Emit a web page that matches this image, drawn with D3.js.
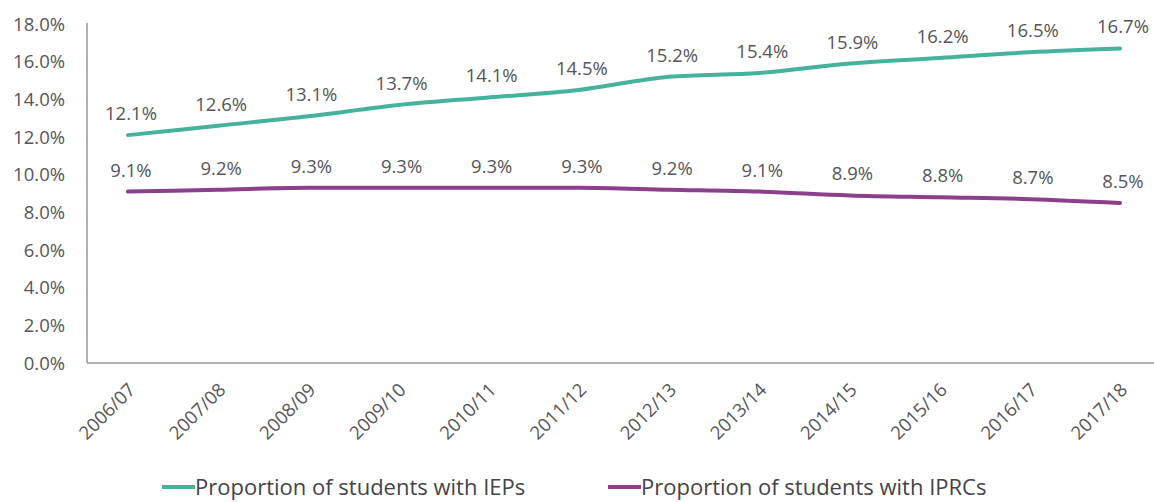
<!DOCTYPE html>
<html>
<head>
<meta charset="utf-8">
<script src="https://cdn.jsdelivr.net/npm/d3@7"></script>
<style>
  html, body { margin: 0; padding: 0; background: #fff; }
  svg { display: block; }
  text { font-family: "Open Sans", Lato, sans-serif; fill: #55555a; }
</style>
</head>
<body>
<svg id="chart" width="1154" height="502"></svg>
<script>
const years = ["2006/07","2007/08","2008/09","2009/10","2010/11","2011/12","2012/13","2013/14","2014/15","2015/16","2016/17","2017/18"];
const iepValues = [12.1, 12.6, 13.1, 13.7, 14.1, 14.5, 15.2, 15.4, 15.9, 16.2, 16.5, 16.7];
const iprcValues = [9.1, 9.2, 9.3, 9.3, 9.3, 9.3, 9.2, 9.1, 8.9, 8.8, 8.7, 8.5];
const yTicks = [0, 2, 4, 6, 8, 10, 12, 14, 16, 18];
const seriesNames = ["Proportion of students with IEPs", "Proportion of students with IPRCs"];
const seriesColors = ["#45b29d", "#8c3f8a"];

const svg = d3.select("#chart");
const x = d3.scalePoint().domain(years).range([128, 1120]);
const y = d3.scaleLinear().domain([0, 18]).range([363, 24]);

// y axis labels
const yAxis = d3.axisLeft(y).tickValues(yTicks).tickFormat(d => d.toFixed(1) + "%").tickSize(0).tickPadding(0);
const gy = svg.append("g").attr("transform", "translate(65,0)").call(yAxis);
gy.select(".domain").remove();
gy.selectAll("text").style("font-size", "18.5px").attr("dy", "0.34em");

// axis lines
svg.append("line").attr("x1", 87).attr("x2", 87).attr("y1", 23).attr("y2", y(0))
  .attr("stroke", "#9a9a9a").attr("stroke-width", 1.5);
const xAxis = d3.axisBottom(x).tickSize(0).tickPadding(0);
const gx = svg.append("g").attr("transform", `translate(0,${y(0)})`).call(xAxis);
gx.select(".domain").attr("d", "M87,0H1154").attr("stroke", "#9a9a9a").attr("stroke-width", 1.5);
gx.selectAll("text")
  .style("font-size", "18.5px")
  .attr("text-anchor", "end")
  .attr("transform", "translate(8,28) rotate(-45)")
  .attr("dy", "0");

const line = d3.line().x((d, i) => x(years[i])).y(d => y(d)).curve(d3.curveMonotoneX);
[iepValues, iprcValues].forEach((vals, k) => {
  svg.append("path").datum(vals).attr("d", line)
    .attr("fill", "none").attr("stroke", seriesColors[k]).attr("stroke-width", 4)
    .attr("stroke-linecap", "round");
  svg.append("g").selectAll("text").data(vals).join("text")
    .attr("x", (d, i) => x(years[i]) + 3)
    .attr("y", d => y(d) - 15)
    .attr("text-anchor", "middle")
    .style("font-size", "18.5px")
    .text(d => d.toFixed(1) + "%");
});

// legend
const legendX = [162, 608];
seriesNames.forEach((name, k) => {
  const g = svg.append("g").attr("transform", `translate(${legendX[k]},487)`);
  g.append("line").attr("x1", 0).attr("x2", 33).attr("y1", 0).attr("y2", 0)
    .attr("stroke", seriesColors[k]).attr("stroke-width", 4);
  g.append("text").attr("x", 33).attr("y", 0).attr("dy", "0.35em")
    .style("font-size", "22px").style("fill", "#444448").text(name);
});
</script>
</body>
</html>
